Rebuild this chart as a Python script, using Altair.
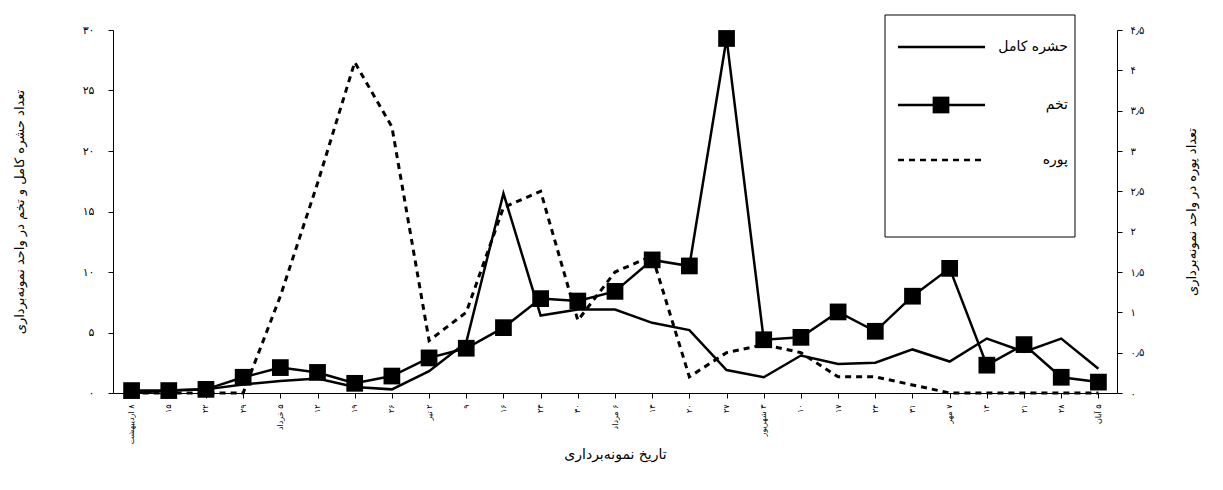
import altair as alt
import pandas as pd

LRM = "\u200e"
dates = ["۸ اردیبهشت", "۱۵", "۲۲", "۲۹", "۵ خرداد", "۱۲", "۱۹", "۲۶", "۲ تیر", "۹",
         "۱۶", "۲۳", "۳۰", "۶ مرداد", "۱۳", "۲۰", "۲۷", "۳ شهریور", "۱۰", "۱۷",
         "۲۴", "۳۱", "۷ مهر", "۱۴", "۲۱", "۲۸", "۵ آبان"]
# lay the day number at the top end of the rotated label
shown = [d.split(" ")[1] + LRM + " " + d.split(" ")[0] if " " in d else d for d in dates]
adult = [0, 0.2, 0.3, 0.7, 1.0, 1.2, 0.5, 0.3, 1.8, 4.2, 16.5, 6.4, 6.9, 6.9,
         5.8, 5.2, 1.9, 1.3, 3.1, 2.4, 2.5, 3.6, 2.6, 4.5, 3.4, 4.5, 2.0]
egg = [0.2, 0.2, 0.3, 1.3, 2.1, 1.7, 0.8, 1.4, 2.9, 3.7, 5.4, 7.8, 7.6, 8.4,
       11.0, 10.5, 29.3, 4.4, 4.6, 6.7, 5.1, 8.0, 10.3, 2.3, 4.0, 1.3, 0.9]
nymph = [0, 0, 0, 0, 1.2, 2.6, 4.1, 3.3, 0.65, 1.0, 2.3, 2.5, 0.9, 1.5,
         1.7, 0.2, 0.5, 0.6, 0.5, 0.2, 0.2, 0.1, 0, 0, 0, 0, 0]

left_labels = ["۰", "۵", "۱۰", "۱۵", "۲۰", "۲۵", "۳۰"]
right_labels = ["۰", "۰٫۵", "۱", "۱٫۵", "۲", "۲٫۵", "۳", "۳٫۵", "۴", "۴٫۵"]

df = pd.DataFrame({"i": range(len(dates)), "adult": adult, "egg": egg, "nymph": nymph})
FONT = "DejaVu Sans"

x = alt.X("i:Q").scale(domain=[-0.5, 26.5], nice=False, zero=False).axis(
    values=list(range(27)), labelExpr=f"{shown}[datum.value]", labelAngle=270,
    labelAlign="right", labelBaseline="middle", labelFontSize=8, grid=False,
    domainColor="black", tickColor="black", labelColor="black", labelPadding=6,
    titleFontSize=14, titleFont=FONT, titleFontWeight="normal", titlePadding=4,
).title("تاریخ نمونه‌برداری")

yleft = alt.Scale(domain=[0, 30], nice=False)
left_axis = alt.Axis(values=[0, 5, 10, 15, 20, 25, 30], labelExpr=f"{left_labels}[datum.value/5]",
                     grid=False, domainColor="black", tickColor="black", labelColor="black",
                     labelFontSize=11, labelPadding=14, titleFont=FONT, titleFontSize=13,
                     titleFontWeight="normal", titlePadding=56)
base = alt.Chart(df)
adult_line = base.mark_line(color="black", strokeWidth=2.5).encode(
    x, alt.Y("adult:Q").scale(yleft).axis(left_axis).title("تعداد حشره کامل و تخم در واحد نمونه‌برداری"))
egg_line = base.mark_line(color="black", strokeWidth=2.5, point=alt.OverlayMarkDef(
    shape="square", size=280, filled=True, color="black")).encode(x, alt.Y("egg:Q").scale(yleft))
left = alt.layer(adult_line, egg_line)

right = base.mark_line(color="black", strokeWidth=3, strokeDash=[6, 5]).encode(
    x, alt.Y("nymph:Q").scale(domain=[0, 4.5], nice=False).axis(
        orient="right", values=[i * 0.5 for i in range(10)],
        labelExpr=f"{right_labels}[round(datum.value*2)]", grid=False,
        domainColor="black", tickColor="black", labelColor="black", labelFontSize=10,
        labelPadding=8, titleFont=FONT, titleFontSize=13, titleFontWeight="normal",
        titleAngle=270, titlePadding=55).title("تعداد پوره در واحد نمونه‌برداری"))

one = alt.Chart(pd.DataFrame({"a": [0]}))
box = one.mark_rect(fill="white", stroke="black", strokeWidth=1).encode(
    x=alt.value(772), x2=alt.value(962), y=alt.value(-15), y2=alt.value(207))
leg = []
for yy, lab, kind in [(17, "حشره کامل", "solid"), (75, "تخم", "egg"), (130, "پوره", "dash")]:
    dash = [6, 5] if kind == "dash" else [1, 0]
    leg.append(one.mark_rule(color="black", strokeWidth=2.5, strokeDash=dash).encode(
        x=alt.value(785), x2=alt.value(872), y=alt.value(yy)))
    if kind == "egg":
        leg.append(one.mark_point(shape="square", size=280, filled=True, color="black",
                                  opacity=1).encode(x=alt.value(828), y=alt.value(yy)))
    leg.append(one.mark_text(align="right", baseline="middle", font=FONT, fontSize=14,
                             color="black").encode(x=alt.value(955), y=alt.value(yy),
                                                   text=alt.value(lab)))

chart = alt.layer(left, right, box, *leg).resolve_scale(y="independent").properties(
    width=1004, height=363, autosize=alt.AutoSizeParams(type="none"),
    padding={"left": 105, "top": 22, "right": 95, "bottom": 80}
).configure_view(stroke=None).configure_axis(labelFont=FONT)

chart.save("out.html", embed_options={"renderer": "svg", "actions": False})
